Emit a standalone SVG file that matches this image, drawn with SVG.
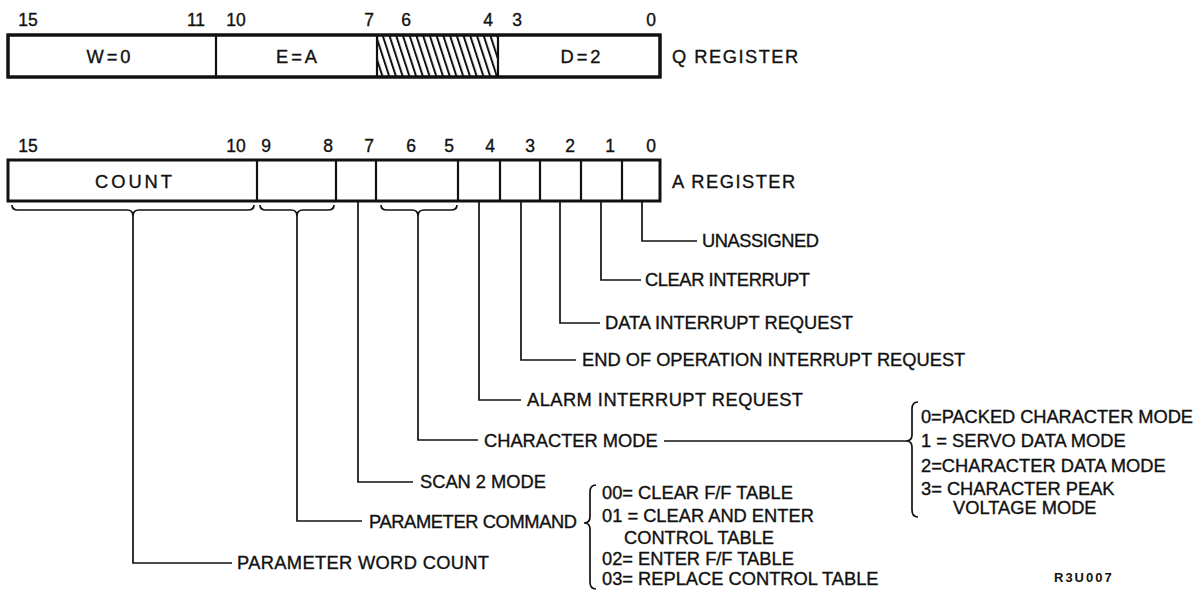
<svg xmlns="http://www.w3.org/2000/svg" width="1201" height="592" viewBox="0 0 1201 592">
<style>
text{font-family:"Liberation Sans",Arial,sans-serif;font-size:18.3px;fill:#111;stroke:#111;stroke-width:0.35}
.n{text-anchor:middle;font-size:17.5px}
.m{text-anchor:middle;letter-spacing:3px}
.r{letter-spacing:1.5px}
.box{fill:#fff;stroke:#111;stroke-width:3}
.div{stroke:#111;stroke-width:2.2}
.c{fill:none;stroke:#111;stroke-width:1.7}
.sm{font-size:13px;letter-spacing:2px;font-weight:bold;stroke-width:0}
</style>
<defs>
<pattern id="hatch" patternUnits="userSpaceOnUse" width="6.4" height="10" patternTransform="rotate(-18)">
<line x1="1" y1="0" x2="1" y2="10" stroke="#111" stroke-width="2"/>
</pattern>
</defs>
<rect width="1201" height="592" fill="#fff"/>

<g id="q-register">
<rect class="box" x="8" y="35" width="652" height="42"/>
<rect x="377" y="35" width="121" height="42" fill="url(#hatch)"/>
<line class="div" x1="216" y1="35" x2="216" y2="77"/>
<line class="div" x1="377" y1="35" x2="377" y2="77"/>
<line class="div" x1="498" y1="35" x2="498" y2="77"/>
<rect x="8" y="35" width="652" height="42" fill="none" stroke="#111" stroke-width="3"/>
<text class="m" x="110" y="63">W=0</text>
<text class="m" x="298" y="63">E=A</text>
<text class="m" x="582" y="63">D=2</text>
<text class="r" x="672" y="63">Q REGISTER</text>
<text class="n" x="28" y="26">15</text>
<text class="n" x="196" y="26">11</text>
<text class="n" x="236" y="26">10</text>
<text class="n" x="369" y="26">7</text>
<text class="n" x="406" y="26">6</text>
<text class="n" x="488" y="26">4</text>
<text class="n" x="517" y="26">3</text>
<text class="n" x="651" y="26">0</text>
</g>

<g id="a-register">
<rect class="box" x="8" y="160" width="652" height="41"/>
<line class="div" x1="257" y1="160" x2="257" y2="201"/>
<line class="div" x1="336" y1="160" x2="336" y2="201"/>
<line class="div" x1="376" y1="160" x2="376" y2="201"/>
<line class="div" x1="458" y1="160" x2="458" y2="201"/>
<line class="div" x1="500" y1="160" x2="500" y2="201"/>
<line class="div" x1="540" y1="160" x2="540" y2="201"/>
<line class="div" x1="581" y1="160" x2="581" y2="201"/>
<line class="div" x1="622" y1="160" x2="622" y2="201"/>
<text class="m" x="135" y="188">COUNT</text>
<text class="r" x="672" y="188">A REGISTER</text>
<text class="n" x="28" y="152">15</text>
<text class="n" x="236" y="152">10</text>
<text class="n" x="266" y="152">9</text>
<text class="n" x="328" y="152">8</text>
<text class="n" x="369" y="152">7</text>
<text class="n" x="411" y="152">6</text>
<text class="n" x="449" y="152">5</text>
<text class="n" x="490" y="152">4</text>
<text class="n" x="530" y="152">3</text>
<text class="n" x="570" y="152">2</text>
<text class="n" x="610" y="152">1</text>
<text class="n" x="651" y="152">0</text>
</g>

<g id="connectors">
<path class="c" d="M12,205 Q12,210 18,210 L127,210 Q133,210 133,216 Q133,210 139,210 L248,210 Q254,210 254,205"/>
<path class="c" d="M260,205 Q260,210 266,210 L291,210 Q297,210 297,216 Q297,210 303,210 L328,210 Q334,210 334,205"/>
<path class="c" d="M381,205 Q381,210 387,210 L412,210 Q418,210 418,216 Q418,210 424,210 L451,210 Q457,210 457,205"/>
<path class="c" d="M642,201 V241 H697"/>
<path class="c" d="M601,201 V280 H641"/>
<path class="c" d="M560,201 V323 H600"/>
<path class="c" d="M521,201 V360 H576"/>
<path class="c" d="M479,201 V400 H521"/>
<path class="c" d="M418,216 V440 H478"/>
<path class="c" d="M358,201 V482 H413"/>
<path class="c" d="M297,216 V521 H362"/>
<path class="c" d="M133,216 V563 H232"/>
<path class="c" d="M664,441 H906"/>
<path class="c" d="M918,402 Q912,402 912,409 L912,435 Q912,441 906,441 Q912,441 912,447 L912,510 Q912,517 918,517"/>
<path class="c" d="M596,485 Q590,485 590,492 L590,517 Q590,523 584,523 Q590,523 590,529 L590,582 Q590,589 596,589"/>
</g>

<g id="labels">
<text x="702" y="247" textLength="117">UNASSIGNED</text>
<text x="645" y="286" textLength="165">CLEAR INTERRUPT</text>
<text x="605" y="329">DATA INTERRUPT REQUEST</text>
<text x="582" y="366">END OF OPERATION INTERRUPT REQUEST</text>
<text x="527" y="406" textLength="276">ALARM INTERRUPT REQUEST</text>
<text x="484" y="447">CHARACTER MODE</text>
<text x="420" y="488">SCAN 2 MODE</text>
<text x="369" y="528" textLength="208">PARAMETER COMMAND</text>
<text x="237" y="569" textLength="252">PARAMETER WORD COUNT</text>
</g>

<g id="character-modes">
<text x="921" y="423" textLength="272">0=PACKED CHARACTER MODE</text>
<text x="921" y="447">1 = SERVO DATA MODE</text>
<text x="921" y="472">2=CHARACTER DATA MODE</text>
<text x="921" y="495">3= CHARACTER PEAK</text>
<text x="953" y="514">VOLTAGE MODE</text>
</g>

<g id="parameter-commands">
<text x="602" y="499">00= CLEAR F/F TABLE</text>
<text x="602" y="522">01 = CLEAR AND ENTER</text>
<text x="624" y="544">CONTROL TABLE</text>
<text x="602" y="565">02= ENTER F/F TABLE</text>
<text x="602" y="585">03= REPLACE CONTROL TABLE</text>
</g>

<text class="sm" x="1054" y="582">R3U007</text>
</svg>
